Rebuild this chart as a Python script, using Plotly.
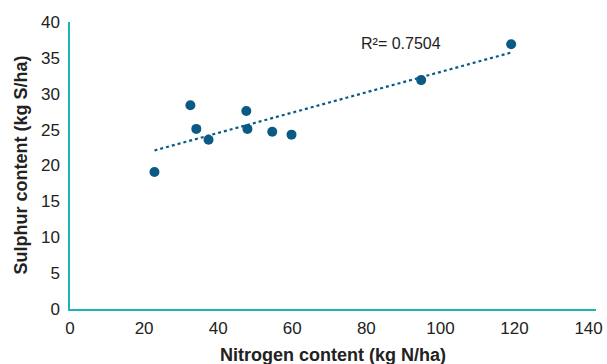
import numpy as np
import plotly.graph_objects as go

# Data
nitrogen = [22.8, 32.5, 34.1, 37.4, 47.6, 47.9, 54.6, 59.8, 94.8, 119.1]
sulphur = [19.1, 28.4, 25.1, 23.6, 27.6, 25.1, 24.7, 24.3, 31.9, 36.9]
r2_label = "R²= 0.7504"
x_title = "Nitrogen content (kg N/ha)"
y_title = "Sulphur content (kg S/ha)"
x_ticks = [0, 20, 40, 60, 80, 100, 120, 140]
y_ticks = [0, 5, 10, 15, 20, 25, 30, 35, 40]

# Linear trendline
slope, intercept = np.polyfit(nitrogen, sulphur, 1)
trend_x = [min(nitrogen), max(nitrogen)]
trend_y = [slope * v + intercept for v in trend_x]

point_color = "#0B5A86"
axis_color = "#1DB3B3"
text_color = "#222222"
font_family = "Liberation Sans, Arial, sans-serif"

fig = go.Figure()
fig.add_trace(go.Scatter(
    x=trend_x, y=trend_y, mode="lines",
    line=dict(color=point_color, width=2.2, dash="dot"),
    hoverinfo="skip", showlegend=False,
))
fig.add_trace(go.Scatter(
    x=nitrogen, y=sulphur, mode="markers",
    marker=dict(color=point_color, size=10),
    showlegend=False,
))

fig.add_annotation(
    x=89.4, y=37.0, text=r2_label, showarrow=False,
    font=dict(family=font_family, size=16, color=text_color),
)
fig.add_annotation(
    xref="paper", yref="paper", x=0.5, y=-0.160, text="<b>" + x_title + "</b>",
    showarrow=False, xanchor="center", yanchor="middle",
    font=dict(family=font_family, size=18, color=text_color),
)
fig.add_annotation(
    xref="paper", yref="paper", x=-0.095, y=0.5, text="<b>" + y_title + "</b>",
    showarrow=False, xanchor="center", yanchor="middle", textangle=-90,
    font=dict(family=font_family, size=18, color=text_color),
)

fig.update_layout(
    width=607, height=364,
    margin=dict(l=70, r=11, t=22, b=55, autoexpand=False),
    plot_bgcolor="white", paper_bgcolor="white",
    font=dict(family=font_family, size=17, color=text_color),
)
fig.update_xaxes(
    range=[0, 142], tickvals=x_ticks, ticktext=[str(v) for v in x_ticks],
    showgrid=False, zeroline=False, automargin=False,
    showline=True, linecolor=axis_color, linewidth=1.5,
    ticks="", tickfont=dict(size=17), ticklabelstandoff=3,
)
fig.update_yaxes(
    range=[0, 40], tickvals=y_ticks, ticktext=[str(v) for v in y_ticks],
    showgrid=False, zeroline=False, automargin=False,
    showline=True, linecolor=axis_color, linewidth=1.5,
    ticks="", tickfont=dict(size=17), ticklabelstandoff=5,
)

fig.write_html(
    "out.html",
    config={"displayModeBar": False},
    post_script="document.body.style.margin='0';document.body.style.overflow='hidden';",
)
